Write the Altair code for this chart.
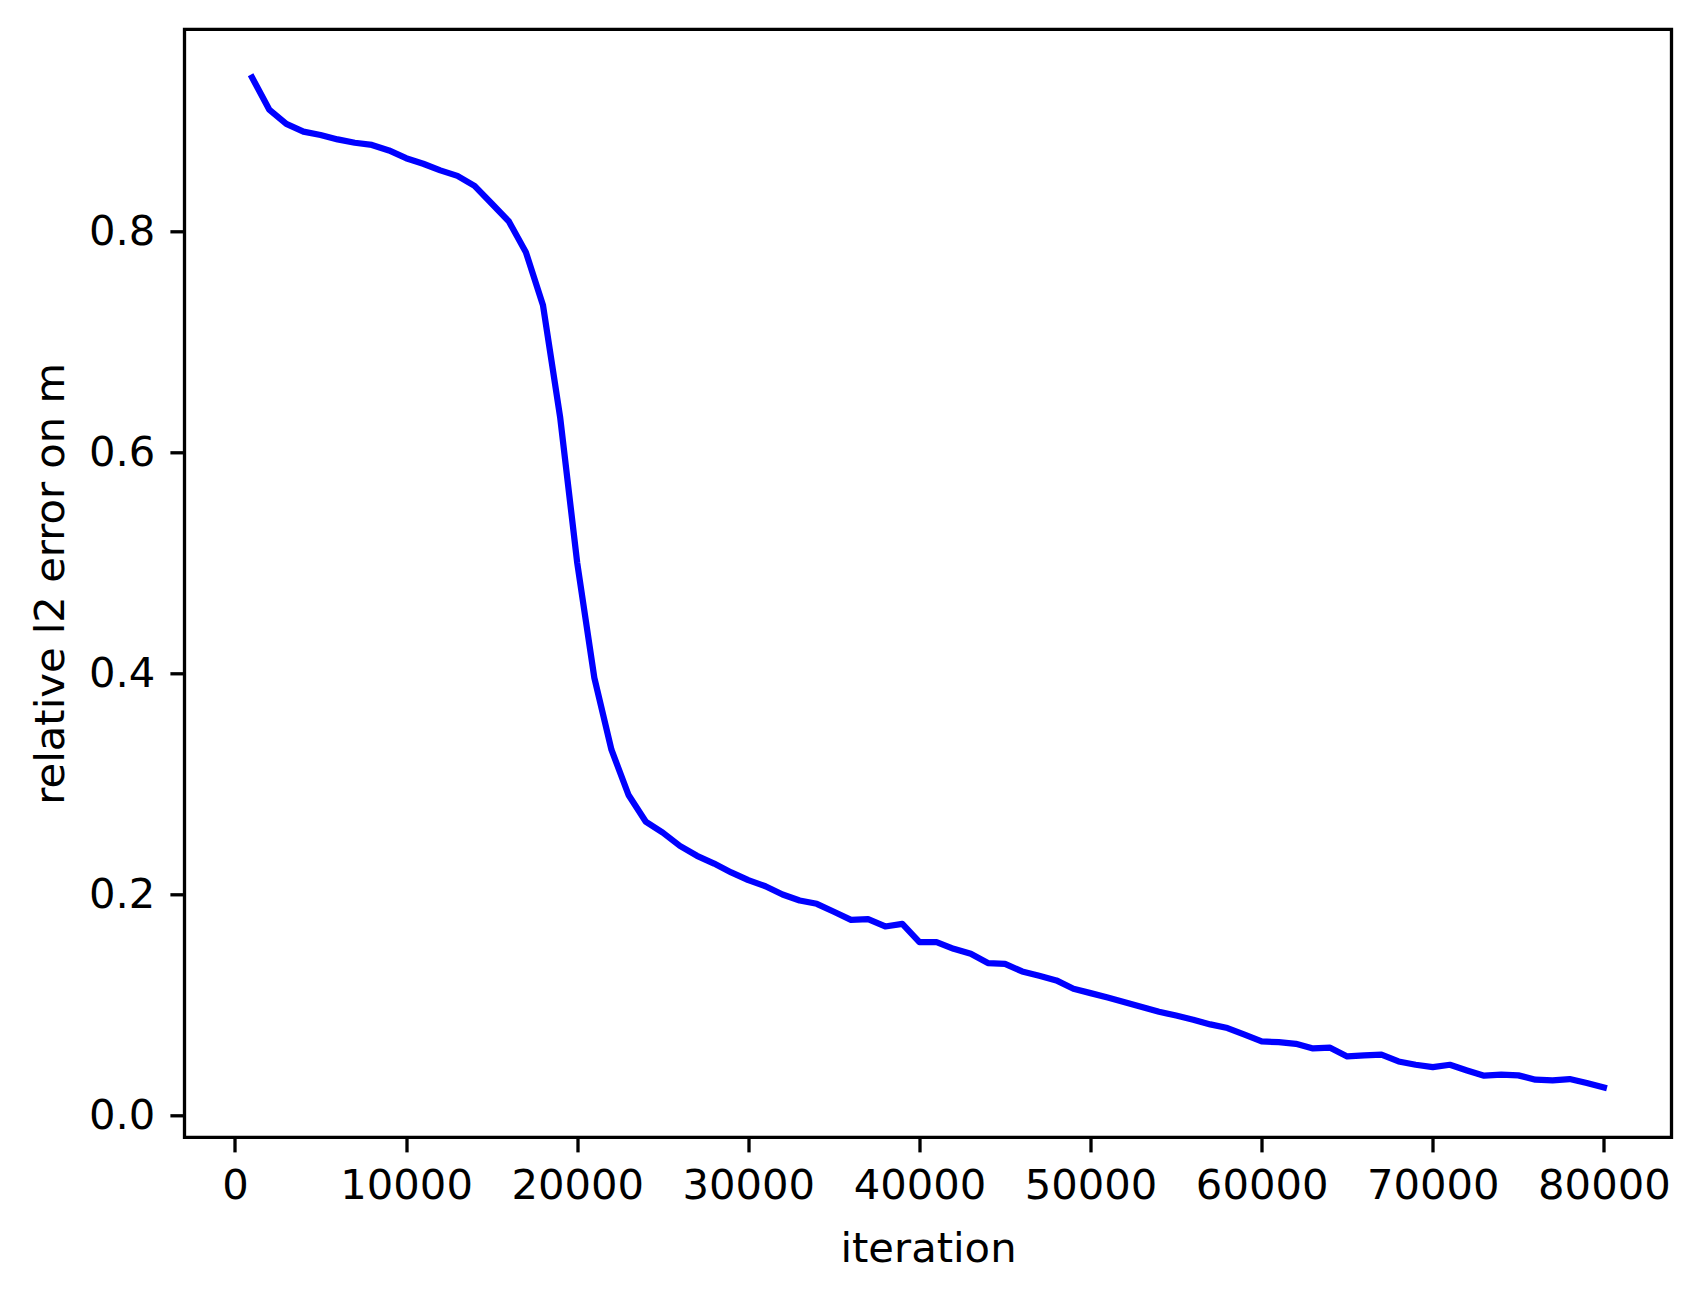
import altair as alt
import pandas as pd

iterations = [
    1000, 2000, 3000, 4000, 5000, 6000, 7000, 8000, 9000, 10000,
    11000, 12000, 13000, 14000, 15000, 16000, 17000, 18000, 19000, 20000,
    21000, 22000, 23000, 24000, 25000, 26000, 27000, 28000, 29000, 30000,
    31000, 32000, 33000, 34000, 35000, 36000, 37000, 38000, 39000, 40000,
    41000, 42000, 43000, 44000, 45000, 46000, 47000, 48000, 49000, 50000,
    51000, 52000, 53000, 54000, 55000, 56000, 57000, 58000, 59000, 60000,
    61000, 62000, 63000, 64000, 65000, 66000, 67000, 68000, 69000, 70000,
    71000, 72000, 73000, 74000, 75000, 76000, 77000, 78000, 79000, 80000,
]
errors = [
    0.939, 0.910, 0.897, 0.890, 0.887, 0.883, 0.880, 0.878, 0.873, 0.866,
    0.861, 0.855, 0.850, 0.841, 0.825, 0.809, 0.781, 0.733, 0.632, 0.500,
    0.396, 0.331, 0.290, 0.266, 0.256, 0.244, 0.235, 0.228, 0.220, 0.213,
    0.2075, 0.200, 0.1946, 0.1916, 0.1844, 0.1771, 0.1778, 0.1711, 0.1735, 0.1570,
    0.1570, 0.1509, 0.1464, 0.1380, 0.1373, 0.1304, 0.1265, 0.1223, 0.1147, 0.1108,
    0.1068, 0.1025, 0.0982, 0.0940, 0.0905, 0.0868, 0.0825, 0.0792, 0.0732, 0.0671,
    0.0665, 0.0650, 0.0608, 0.0614, 0.0535, 0.0544, 0.0551, 0.0490, 0.0460, 0.0439,
    0.0460, 0.0409, 0.0361, 0.0370, 0.0364, 0.0325, 0.0319, 0.0331, 0.0295, 0.0255,
]
x_ticks = [0, 10000, 20000, 30000, 40000, 50000, 60000, 70000, 80000]
y_ticks = [0.0, 0.2, 0.4, 0.6, 0.8]

df = pd.DataFrame({"iteration": iterations, "error": errors})

W, H = 1487, 1108
FONT = "DejaVu Sans"
FS = 41.7

common_axis = dict(
    domain=False,
    grid=False,
    tickColor="black",
    tickWidth=3.3,
    tickSize=14.6,
    labelFont=FONT,
    labelFontSize=FS,
    labelColor="black",
    titleFont=FONT,
    titleFontSize=FS,
    titleFontWeight="normal",
    titleColor="black",
)

chart = (
    alt.Chart(df)
    .mark_line(color="#0000ff", strokeWidth=6.25, strokeCap="square", strokeJoin="round")
    .encode(
        x=alt.X(
            "iteration:Q",
            scale=alt.Scale(domain=[-2950, 83950], nice=False, zero=False),
            axis=alt.Axis(
                values=x_ticks,
                format="d",
                title="iteration",
                labelPadding=13.6,
                titleX=W / 2,
                titleY=124,
                titleAlign="center",
                titleBaseline="alphabetic",
                **common_axis,
            ),
        ),
        y=alt.Y(
            "error:Q",
            scale=alt.Scale(domain=[-0.0196, 0.9826], nice=False, zero=False),
            axis=alt.Axis(
                values=y_ticks,
                format=".1f",
                title="relative l2 error on m",
                labelPadding=15,
                titleX=-121.5,
                titleY=H / 2,
                titleAngle=270,
                titleAlign="center",
                titleBaseline="alphabetic",
                **common_axis,
            ),
        ),
    )
    .properties(
        width=W,
        height=H,
        autosize=alt.AutoSizeParams(type="none"),
        padding={"left": 176.5, "top": 21.3, "right": 20, "bottom": 150},
        background="white",
    )
    .configure_view(stroke="black", strokeWidth=3.3)
)

chart.save("out.html", embed_options={"renderer": "svg", "actions": False})
